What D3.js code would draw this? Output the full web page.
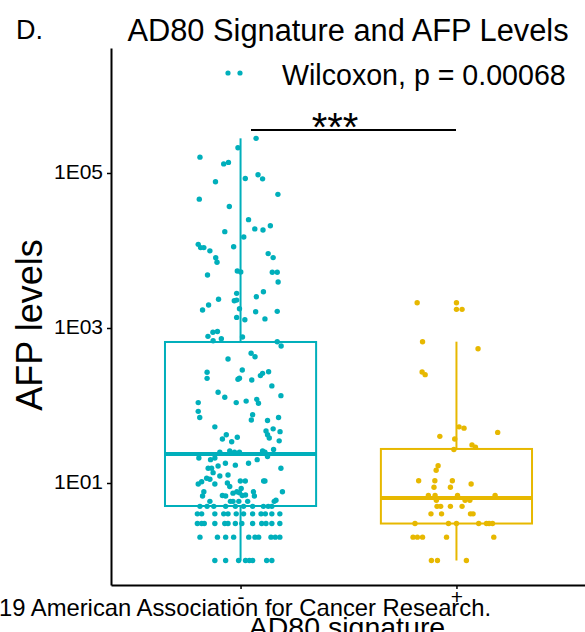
<!DOCTYPE html>
<html>
<head>
<meta charset="utf-8">
<script src="https://cdn.jsdelivr.net/npm/d3@7"></script>
<style>
  body { margin: 0; background: #fff; }
  svg { display: block; font-family: "Liberation Sans", Arial, sans-serif; }
</style>
</head>
<body>
<div id="chart"></div>
<script>
// groups on the x axis and their colours
const groups = ["-", "+"];
const groupColors = ["#00AFBB", "#E7B800"];

// y axis ticks
const yTicks = [10, 1000, 100000];
const yTickLabels = ["1E01", "1E03", "1E05"];

// box summary (AFP levels)
const boxQ1 = [5.05, 3.0];
const boxMedian = [23.7, 6.4];
const boxQ3 = [660, 27.5];
const whiskerLow = [1, 1];
const whiskerHigh = [2.8e5, 666];

// jittered points, [AFP level, horizontal jitter in group units]
const negPoints = [
  [2.8e5,0.072],[2.12e5,-0.012],[1.6e5,-0.188],[1.31e5,-0.078],[1.37e5,-0.056],[9.5e4,0.081],[8.4e4,0.102],
  [8.5e4,0.022],[7.7e4,-0.116],[5.3e4,0.173],[4.6e4,-0.191],[3.7e4,-0.052],[2.5e4,0.037],[1.9e4,0.066],
  [1.84e4,0.104],[2.09e4,0.138],[1.75e4,-0.073],[1.49e4,0.015],[1.2e4,-0.196],[1.09e4,-0.185],[1.09e4,-0.17],
  [9900,-0.142],[1.12e4,-0.032],[8070,-0.115],[7040,-0.109],[9100,0.128],[8100,0.151],[4830,-0.153],
  [5440,-0.015],[5280,0.001],[5230,0.147],[5230,0.17],[3920,0.174],[2800,-0.018],[2250,-0.029],[2290,-0.018],
  [2940,0.106],[2530,0.073],[2350,-0.102],[1980,-0.148],[1710,-0.176],[1770,-0.005],[1620,0.07],[1640,0.17],
  [1370,-0.018],[1280,0.02],[1310,0.113],[780,-0.151],[880,-0.128],[900,-0.107],[686,-0.127],[728,-0.089],
  [765,0.009],[666,0.17],[586,0.188],
  [398,-0.058],[472,0.049],[426,0.067],[268,-0.155],[224,-0.155],[287,0.008],[218,-0.012],[225,-0.005],
  [213,0.052],[243,0.092],[260,0.102],[273,0.13],[179,0.145],[148,-0.104],[128,-0.073],[109,-0.02],[114,0.026],
  [120,0.075],[107,0.083],[134,0.187],[109,-0.196],[84,-0.196],[70,-0.189],[76,0.056],[65,0.05],[64,0.125],
  [70,0.176],[53,-0.119],[42,-0.066],[37,-0.084],[34,-0.041],[39,-0.015],[47,0.118],[42,0.125],[38,0.133],
  [50,0.151],[46,0.183],[35,0.179],[27,0.153],[25,-0.096],[26,-0.05],[25,-0.028],[25,-0.005],[26,0.102],
  [25,0.113],[22,0.125],[20,0.077],[21,-0.193],[20,-0.139],[21,-0.119],[18,-0.07],[17,-0.024],[18,0.037],
  [15.5,0.187],[15.5,-0.15],[15.5,-0.134],[13.6,-0.127],[16.6,-0.104],[12.3,-0.096],[12.7,-0.058],[9.7,-0.196],
  [10.4,-0.18],[11.5,-0.157],[11.2,-0.142],[9.7,-0.119],[10,-0.061],[9,-0.05],[10.6,-0.001],[10.6,0.022],
  [10.6,0.107],[10.6,0.113],[7.7,-0.17],[6.8,-0.176],[5.8,-0.142],[6.9,-0.084],[6.8,-0.069],[7.4,-0.035],
  [7.7,-0.017],[7.5,-0.005],[8.5,0.003],[6.9,0.008],[7,0.023],[7.7,0.06],[6.8,0.064],[5.8,-0.047],[5.8,-0.035],
  [6,0.164],[5.8,0.156],[7.7,0.194],[5.8,-0.008],[5.8,0.033]
];
// low integer AFP values sit on rows: [value, jitters...]
const negRows = [
  [5, -0.188,-0.155,-0.124,-0.069,-0.024,0.014,0.056,0.106,0.128,0.145],
  [4, -0.2,-0.18,-0.119,-0.078,-0.058,-0.02,0.014,0.056,0.095,0.115,0.145,0.182],
  [3, -0.2,-0.18,-0.168,-0.119,-0.073,-0.058,-0.024,0.006,0.056,0.098,0.118,0.145,0.182],
  [2, -0.188,-0.107,-0.069,-0.032,0.038,0.067,0.084,0.141,0.161,0.182],
  [1, -0.119,-0.069,-0.009,0.023,0.041,0.056,0.121,0.145]
];
const posPoints = [
  [2120,-0.182],[2120,0],[1740,0],[1740,0.026],[666,-0.157],[541,0.1],[270,-0.159],[250,-0.145],
  [53,0.012],[51,0.035],[45,0.191],[40,-0.077],[37,-0.008],[31,0.072],[29,0.088],[27,-0.012],
  [16.7,-0.085],[14.6,-0.094],[10.7,-0.175],[10.7,-0.1],[10.7,-0.019],[9.7,0.068],[8.8,-0.104],[8.8,-0.028],
  [6.9,-0.13],[6.9,-0.099],[6,-0.093],[6.9,0.005],[6,0.04],[6,0.062],[6.9,0.179]
];
const posRows = [
  [5, -0.09,-0.073,-0.028,0.026],
  [4, -0.118,-0.069,0.065,0.077],
  [3, -0.192,-0.037,0,0.103,0.139,0.151,0.167],
  [2, -0.201,-0.181,-0.157,-0.046,0.173],
  [1, -0.116,-0.088,0.046]
];

const width = 585, height = 632;

function expandRows(rows) {
  return rows.flatMap(r => r.slice(1).map(j => [r[0], j]));
}
const points = [
  negPoints.concat(expandRows(negRows)),
  posPoints.concat(expandRows(posRows))
];

const svg = d3.select("#chart").append("svg")
    .attr("width", width)
    .attr("height", height);

svg.append("rect").attr("width", width).attr("height", height).attr("fill", "#fff");

const x = d3.scalePoint().domain(groups).range([111, 586]).padding(0.6);
const step = x.step();
const y = d3.scaleLog().domain([0.483, 4.1e6]).range([585, 48]);
const boxW = 0.7 * step;

// boxes + whiskers
const box = svg.append("g").selectAll("g")
  .data(groups)
  .join("g")
    .attr("stroke", (d, i) => groupColors[i])
    .attr("fill", "none")
    .attr("stroke-width", 2);

box.append("line")
    .attr("x1", d => x(d)).attr("x2", d => x(d))
    .attr("y1", (d, i) => y(boxQ3[i])).attr("y2", (d, i) => y(whiskerHigh[i]));
box.append("line")
    .attr("x1", d => x(d)).attr("x2", d => x(d))
    .attr("y1", (d, i) => y(boxQ1[i])).attr("y2", (d, i) => y(whiskerLow[i]));
box.append("rect")
    .attr("x", d => x(d) - boxW / 2)
    .attr("width", boxW)
    .attr("y", (d, i) => y(boxQ3[i]))
    .attr("height", (d, i) => y(boxQ1[i]) - y(boxQ3[i]));
box.append("line")
    .attr("x1", d => x(d) - boxW / 2).attr("x2", d => x(d) + boxW / 2)
    .attr("y1", (d, i) => y(boxMedian[i])).attr("y2", (d, i) => y(boxMedian[i]))
    .attr("stroke-width", 4);

// jitter points
groups.forEach((g, gi) => {
  svg.append("g")
    .attr("fill", groupColors[gi])
    .selectAll("circle")
    .data(points[gi])
    .join("circle")
      .attr("cx", d => x(g) + d[1] * step)
      .attr("cy", d => y(d[0]))
      .attr("r", 2.7);
});

// axes
const yAxis = svg.append("g")
    .attr("transform", "translate(111,0)")
    .call(d3.axisLeft(y).tickValues(yTicks).tickFormat((d, i) => yTickLabels[i])
      .tickSize(4).tickSizeOuter(0).tickPadding(4));
const xAxis = svg.append("g")
    .attr("transform", "translate(0,585)")
    .call(d3.axisBottom(x).tickSize(4).tickSizeOuter(0).tickPadding(0));

[yAxis, xAxis].forEach(a => {
  a.select(".domain").attr("stroke", "#000").attr("stroke-width", 2);
  a.selectAll(".tick line").attr("stroke", "#000").attr("stroke-width", 1.5);
  a.selectAll(".tick text").attr("fill", "#000").attr("font-size", 21)
    .attr("font-family", "Liberation Sans, Arial, sans-serif");
});
yAxis.selectAll(".tick text").attr("dy", "0.28em");

// significance bracket
svg.append("line")
    .attr("x1", 251).attr("x2", 456).attr("y1", 130).attr("y2", 130)
    .attr("stroke", "#000").attr("stroke-width", 2);
svg.append("text")
    .attr("x", 335).attr("y", 141)
    .attr("text-anchor", "middle")
    .attr("font-size", 40)
    .text("***");

// legend-like annotation
svg.append("g").attr("fill", groupColors[0])
  .selectAll("circle").data([228, 240]).join("circle")
    .attr("cx", d => d).attr("cy", 73).attr("r", 2.6);
svg.append("text")
    .attr("x", 282).attr("y", 85)
    .attr("font-size", 28.6)
    .text("Wilcoxon, p = 0.00068");

// titles
svg.append("text")
    .attr("x", 16).attr("y", 39)
    .attr("font-size", 27)
    .text("D.");
svg.append("text")
    .attr("x", 348).attr("y", 41)
    .attr("text-anchor", "middle")
    .attr("font-size", 30.8)
    .text("AD80 Signature and AFP Levels");
svg.append("text")
    .attr("transform", "translate(42,325) rotate(-90)")
    .attr("text-anchor", "middle")
    .attr("font-size", 36)
    .text("AFP levels");
svg.append("text")
    .attr("x", 347).attr("y", 637)
    .attr("text-anchor", "middle")
    .attr("font-size", 28.5)
    .text("AD80 signature");

// copyright line overlaid on the bottom of the figure
svg.append("text")
    .attr("x", -1).attr("y", 616)
    .attr("font-size", 23.8)
    .text("19 American Association for Cancer Research.");
</script>
</body>
</html>
